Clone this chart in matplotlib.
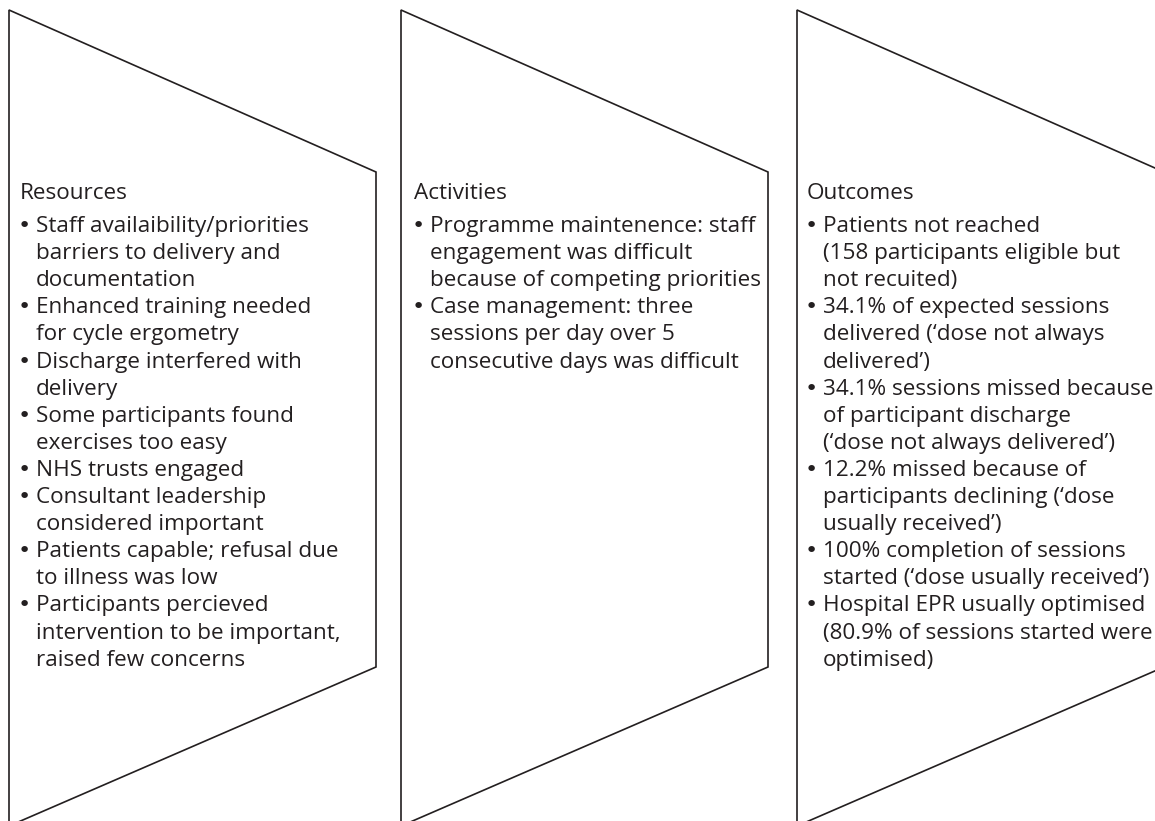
import matplotlib.pyplot as plt
from matplotlib.patches import Polygon

# column headings and their bullet items (wrapped lines as in the figure)
headings = ['Resources', 'Activities', 'Outcomes']

resources = [
    ['Staff availaibility/priorities', 'barriers to delivery and', 'documentation'],
    ['Enhanced training needed', 'for cycle ergometry'],
    ['Discharge interfered with', 'delivery'],
    ['Some participants found', 'exercises too easy'],
    ['NHS trusts engaged'],
    ['Consultant leadership', 'considered important'],
    ['Patients capable; refusal due', 'to illness was low'],
    ['Participants percieved', 'intervention to be important,', 'raised few concerns'],
]
activities = [
    ['Programme maintenence: staff', 'engagement was difficult', 'because of competing priorities'],
    ['Case management: three', 'sessions per day over 5', 'consecutive days was difficult'],
]
outcomes = [
    ['Patients not reached', '(158 participants eligible but', 'not recuited)'],
    ['34.1% of expected sessions', 'delivered (\u2018dose not always', 'delivered\u2019)'],
    ['34.1% sessions missed because', 'of participant discharge', '(\u2018dose not always delivered\u2019)'],
    ['12.2% missed because of', 'participants declining (\u2018dose', 'usually received\u2019)'],
    ['100% completion of sessions', 'started (\u2018dose usually received\u2019)'],
    ['Hospital EPR usually optimised', '(80.9% of sessions started were', 'optimised)'],
]
columns = [resources, activities, outcomes]

W, H = 1155, 821
ink = '#231f20'

# chevron geometry (pixels)
leftX = [9, 401, 797]
chevW = 367
topY = 10
tipTop = 172
tipBot = 667
botY = 826

textX = [20, 414, 807]
indent = 16
titleBase = 199
firstBase = 232
lineStep = 27.1
fontSize = 16.2

fig = plt.figure(figsize=(W/100, H/100), dpi=100)
ax = fig.add_axes([0, 0, 1, 1])
ax.set_xlim(0, W)
ax.set_ylim(H, 0)
ax.axis('off')

for ii in range(3):
    x0 = leftX[ii]
    pts = [(x0, botY), (x0, topY), (x0+chevW, tipTop), (x0+chevW, tipBot)]
    ax.add_patch(Polygon(pts, closed=True, fill=False, edgecolor=ink,
                         linewidth=1.2, joinstyle='miter'))

    ax.text(textX[ii], titleBase, headings[ii], fontsize=fontSize, color=ink,
            family='Open Sans', va='baseline', ha='left')
    y = firstBase
    for item in columns[ii]:
        ax.text(textX[ii]-2, y, '\u2022', fontsize=fontSize, color=ink,
                family='DejaVu Sans', va='baseline', ha='left')
        for line in item:
            ax.text(textX[ii]+indent, y, line, fontsize=fontSize, color=ink,
                    family='Open Sans', va='baseline', ha='left')
            y += lineStep

plt.savefig('out.png', dpi=100)
